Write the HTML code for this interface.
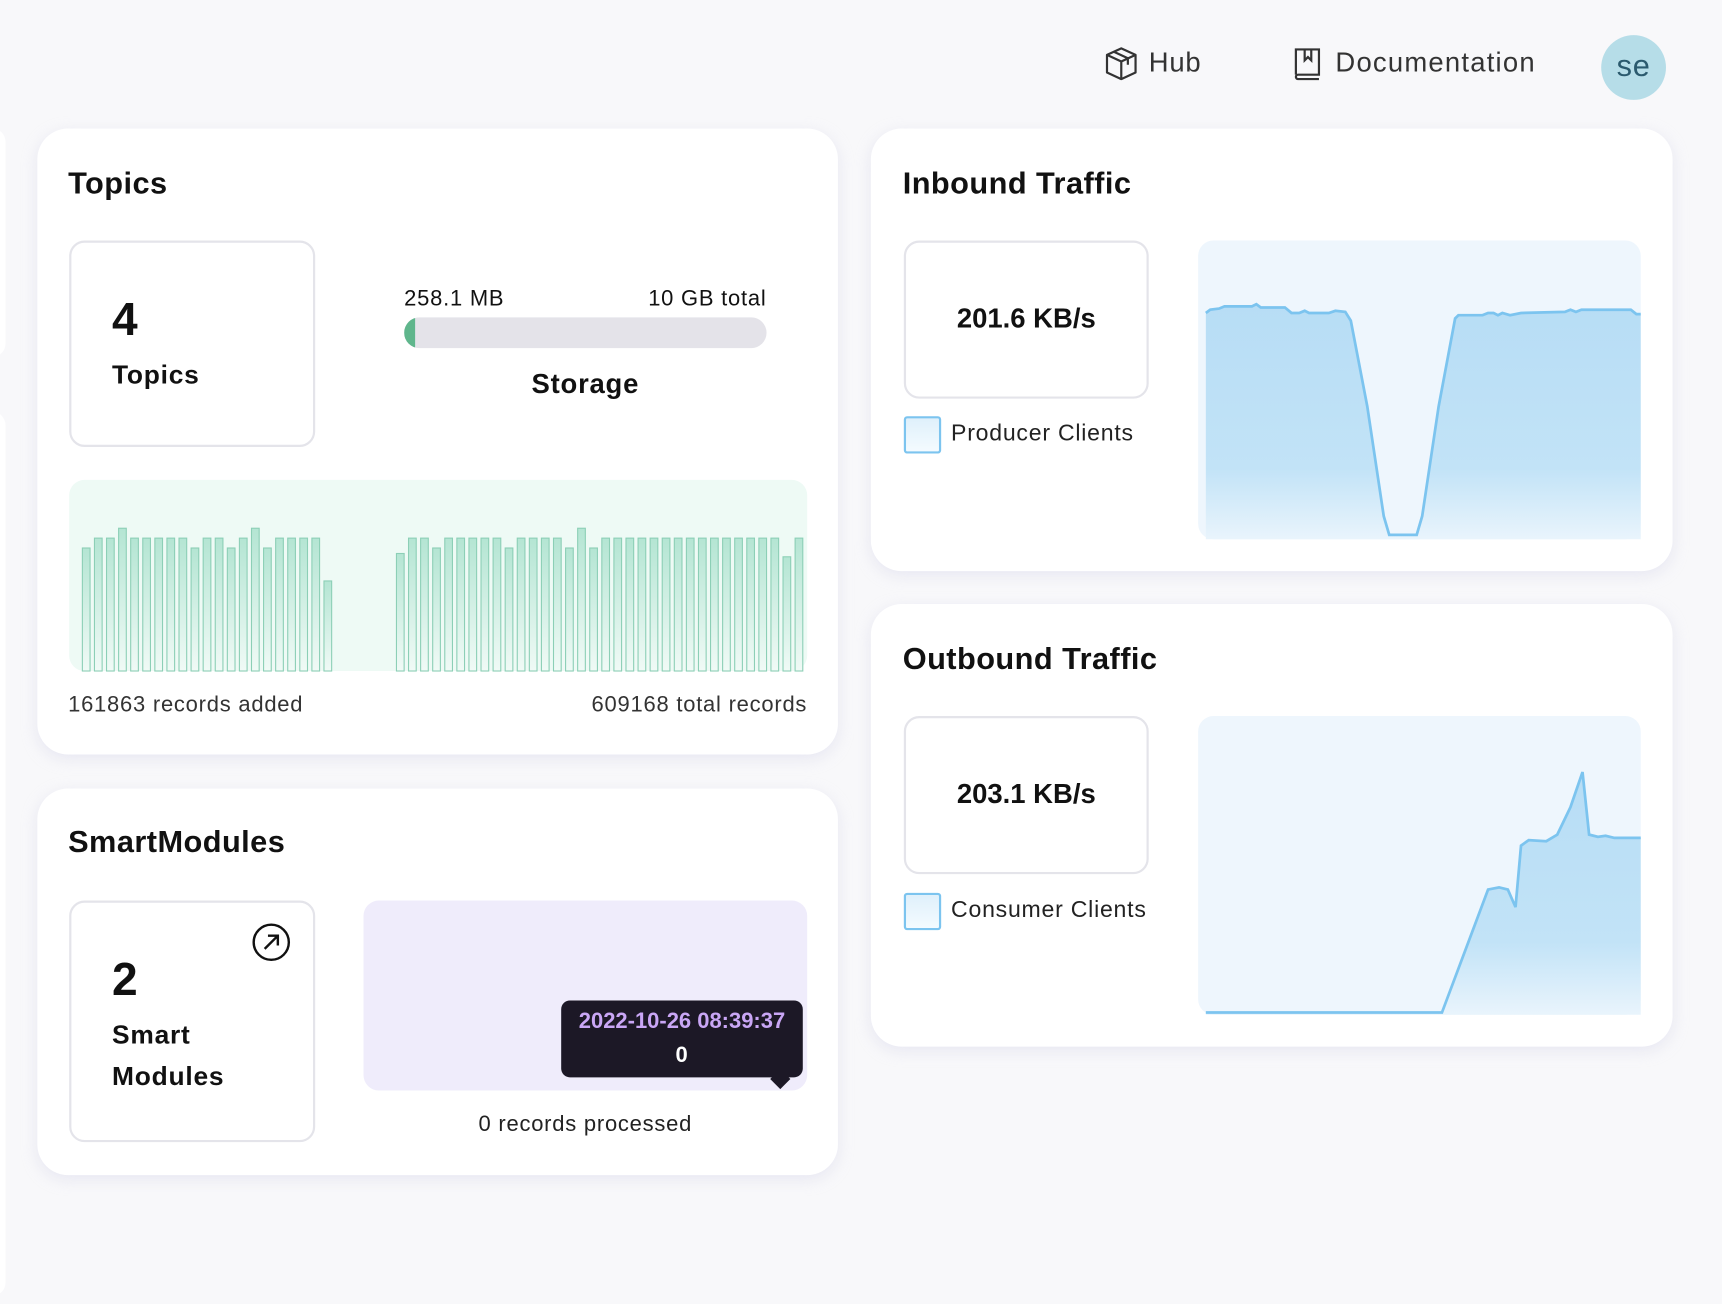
<!DOCTYPE html>
<html><head><meta charset="utf-8"><style>
html,body{margin:0;padding:0;width:1722px;height:1304px;overflow:hidden;background:#f8f8fa;font-family:"Liberation Sans",sans-serif;color:#111;}
#root{position:absolute;left:0;top:0;width:1568px;height:1187px;transform:scale(1.09821);transform-origin:0 0;}
.abs{position:absolute;}
.card{position:absolute;background:#fff;border-radius:28px;box-shadow:0 4px 14px rgba(200,200,225,0.35);}
.title{position:absolute;font-size:28px;font-weight:bold;line-height:1;letter-spacing:0.4px;}
.box{position:absolute;border:2px solid #e4e4ea;border-radius:14px;box-sizing:border-box;background:#fff;}
.t{position:absolute;white-space:nowrap;line-height:1;letter-spacing:0.7px;}
</style></head><body><div id="root">
<div class="abs" style="left:-20px;top:117px;width:25px;height:208px;background:#fff;border-radius:12px;"></div>
<div class="abs" style="left:-20px;top:375px;width:25px;height:805px;background:#fff;border-radius:12px;"></div>

<!-- header -->
<svg class="abs" style="left:1004px;top:41px" width="34" height="34" viewBox="0 0 34 34" fill="none" stroke="#333" stroke-width="2" stroke-linejoin="round"><path d="M17 3 L30 9 L30 25 L17 31 L4 25 L4 9 Z"/><path d="M4 9 L17 15 L30 9 M17 15 L17 31 M10 6 L23 12 L23 18"/></svg>
<div class="t" style="left:1046px;top:45px;font-size:25px;color:#333;">Hub</div>
<svg class="abs" style="left:1177px;top:42px" width="28" height="32" viewBox="0 0 28 32" fill="none" stroke="#333" stroke-width="2"><path d="M3 26 V3 H24 V26 H5 a2 2 0 0 0 0 4 H24"/><path d="M11 3 V13 L14 10 L17 13 V3"/></svg>
<div class="t" style="left:1216px;top:45px;font-size:25px;color:#333;letter-spacing:1.1px;">Documentation</div>
<div class="abs" style="left:1458px;top:32px;width:59px;height:59px;border-radius:50%;background:#b6dde8;"></div>
<div class="t" style="left:1458px;top:46px;width:59px;text-align:center;font-size:28px;color:#2b5a6e;">se</div>

<!-- Topics card -->
<div class="card" style="left:34px;top:117px;width:729px;height:570px;"></div>
<div class="title" style="left:62px;top:153px;">Topics</div>
<div class="box" style="left:63px;top:219px;width:224px;height:188px;"></div>
<div class="t" style="left:102px;top:270px;font-size:42px;font-weight:bold;">4</div>
<div class="t" style="left:102px;top:330px;font-size:24px;font-weight:bold;">Topics</div>
<div class="t" style="left:368px;top:262px;font-size:20px;">258.1 MB</div>
<div class="t" style="left:538px;top:262px;width:160px;text-align:right;font-size:20px;">10 GB total</div>
<div class="abs" style="left:368px;top:289px;width:330px;height:28px;border-radius:14px;background:#e4e3e9;overflow:hidden;"><div style="width:10px;height:28px;background:#5fb68c;"></div></div>
<div class="t" style="left:368px;top:338px;width:330px;text-align:center;font-size:25px;font-weight:bold;">Storage</div>
<div class="abs" style="left:63px;top:437px;width:672px;height:174px;background:#eefaf5;border-radius:14px;"></div>
<svg class="abs" style="left:0;top:0" width="1568" height="700">
<defs><linearGradient id="bg" x1="0" y1="0" x2="0" y2="1"><stop offset="0" stop-color="#b4e5d3"/><stop offset="1" stop-color="#f0faf6"/></linearGradient></defs>
<g fill="url(#bg)" stroke="#8ccfb6" stroke-width="1">
<rect x="75" y="499" width="7" height="112"/><rect x="86" y="490" width="7" height="121"/><rect x="97" y="490" width="7" height="121"/><rect x="108" y="481" width="7" height="130"/><rect x="119" y="490" width="7" height="121"/><rect x="130" y="490" width="7" height="121"/><rect x="141" y="490" width="7" height="121"/><rect x="152" y="490" width="7" height="121"/><rect x="163" y="490" width="7" height="121"/><rect x="174" y="499" width="7" height="112"/><rect x="185" y="490" width="7" height="121"/><rect x="196" y="490" width="7" height="121"/><rect x="207" y="499" width="7" height="112"/><rect x="218" y="490" width="7" height="121"/><rect x="229" y="481" width="7" height="130"/><rect x="240" y="499" width="7" height="112"/><rect x="251" y="490" width="7" height="121"/><rect x="262" y="490" width="7" height="121"/><rect x="273" y="490" width="7" height="121"/><rect x="284" y="490" width="7" height="121"/><rect x="295" y="529" width="7" height="82"/>
<rect x="361" y="504" width="7" height="107"/><rect x="372" y="490" width="7" height="121"/><rect x="383" y="490" width="7" height="121"/><rect x="394" y="499" width="7" height="112"/><rect x="405" y="490" width="7" height="121"/><rect x="416" y="490" width="7" height="121"/><rect x="427" y="490" width="7" height="121"/><rect x="438" y="490" width="7" height="121"/><rect x="449" y="490" width="7" height="121"/><rect x="460" y="499" width="7" height="112"/><rect x="471" y="490" width="7" height="121"/><rect x="482" y="490" width="7" height="121"/><rect x="493" y="490" width="7" height="121"/><rect x="504" y="490" width="7" height="121"/><rect x="515" y="499" width="7" height="112"/><rect x="526" y="481" width="7" height="130"/><rect x="537" y="499" width="7" height="112"/><rect x="548" y="490" width="7" height="121"/><rect x="559" y="490" width="7" height="121"/><rect x="570" y="490" width="7" height="121"/><rect x="581" y="490" width="7" height="121"/><rect x="592" y="490" width="7" height="121"/><rect x="603" y="490" width="7" height="121"/><rect x="614" y="490" width="7" height="121"/><rect x="625" y="490" width="7" height="121"/><rect x="636" y="490" width="7" height="121"/><rect x="647" y="490" width="7" height="121"/><rect x="658" y="490" width="7" height="121"/><rect x="669" y="490" width="7" height="121"/><rect x="680" y="490" width="7" height="121"/><rect x="691" y="490" width="7" height="121"/><rect x="702" y="490" width="7" height="121"/><rect x="713" y="507" width="7" height="104"/><rect x="724" y="490" width="7" height="121"/>
</g></svg>
<div class="t" style="left:62px;top:632px;font-size:20px;color:#333;">161863 records added</div>
<div class="t" style="left:435px;top:632px;width:300px;text-align:right;font-size:20px;color:#333;">609168 total records</div>

<!-- SmartModules card -->
<div class="card" style="left:34px;top:718px;width:729px;height:352px;"></div>
<div class="title" style="left:62px;top:753px;">SmartModules</div>
<div class="box" style="left:63px;top:820px;width:224px;height:220px;"></div>
<svg class="abs" style="left:229px;top:840px" width="36" height="36" viewBox="0 0 36 36" fill="none" stroke="#111" stroke-width="2.2"><circle cx="18" cy="18" r="16"/><path d="M12 24 L24 12 M15 12 H24 V21"/></svg>
<div class="t" style="left:102px;top:871px;font-size:42px;font-weight:bold;">2</div>
<div class="t" style="left:102px;top:931px;font-size:24px;font-weight:bold;">Smart</div>
<div class="t" style="left:102px;top:969px;font-size:24px;font-weight:bold;">Modules</div>
<div class="abs" style="left:331px;top:820px;width:404px;height:173px;background:#efecfb;border-radius:14px;"></div>
<div class="abs" style="left:511px;top:911px;width:220px;height:70px;background:#1c1826;border-radius:8px;"></div>
<div class="abs" style="left:704px;top:976px;width:13px;height:13px;background:#1c1826;transform:rotate(45deg);"></div>
<div class="t" style="left:511px;top:920px;width:220px;text-align:center;font-size:20px;font-weight:bold;color:#c9a6f5;letter-spacing:0;">2022-10-26 08:39:37</div>
<div class="t" style="left:511px;top:951px;width:220px;text-align:center;font-size:20px;font-weight:bold;color:#fff;">0</div>
<div class="t" style="left:331px;top:1014px;width:404px;text-align:center;font-size:20px;color:#222;">0 records processed</div>

<!-- Inbound card -->
<div class="card" style="left:793px;top:117px;width:730px;height:403px;"></div>
<div class="title" style="left:822px;top:153px;">Inbound Traffic</div>
<div class="box" style="left:823px;top:219px;width:223px;height:144px;"></div>
<div class="t" style="left:823px;top:278px;width:223px;text-align:center;font-size:25px;font-weight:bold;letter-spacing:0;">201.6 KB/s</div>
<div class="abs" style="left:823px;top:379px;width:34px;height:34px;box-sizing:border-box;border:2px solid #7cc4ef;border-radius:3px;background:linear-gradient(#dff0fb,#f4fbff);"></div>
<div class="t" style="left:866px;top:384px;font-size:21px;color:#222;">Producer Clients</div>
<div class="abs" style="left:1091px;top:219px;width:403px;height:272px;background:#eef6fd;border-radius:14px;"></div>

<!-- Outbound card -->
<div class="card" style="left:793px;top:550px;width:730px;height:403px;"></div>
<div class="title" style="left:822px;top:586px;">Outbound Traffic</div>
<div class="box" style="left:823px;top:652px;width:223px;height:144px;"></div>
<div class="t" style="left:823px;top:711px;width:223px;text-align:center;font-size:25px;font-weight:bold;letter-spacing:0;">203.1 KB/s</div>
<div class="abs" style="left:823px;top:813px;width:34px;height:34px;box-sizing:border-box;border:2px solid #7cc4ef;border-radius:3px;background:linear-gradient(#dff0fb,#f4fbff);"></div>
<div class="t" style="left:866px;top:818px;font-size:21px;color:#222;">Consumer Clients</div>
<div class="abs" style="left:1091px;top:652px;width:403px;height:272px;background:#eef6fd;border-radius:14px;"></div>

<svg class="abs" style="left:0;top:0" width="1568" height="1000">
<defs>
<linearGradient id="g1" x1="0" y1="0" x2="0" y2="1"><stop offset="0" stop-color="#b7ddf5"/><stop offset="0.7" stop-color="#c2e3f7"/><stop offset="1" stop-color="#e9f4fc"/></linearGradient>
</defs>
<path d="M1098,285 L1102,282 L1110,281 L1115,279 L1140,279 L1144,277 L1148,280 L1170,280 L1176,285 L1183,285 L1188,283 L1192,285 L1210,285 L1216,283 L1225,284 L1230,292 L1245,370 L1260,470 L1265,487 L1290,487 L1295,470 L1310,370 L1325,290 L1328,287 L1350,287 L1355,285 L1360,285 L1364,287 L1368,285 L1375,287 L1385,285 L1425,284 L1430,282 L1435,284 L1440,282 L1485,282 L1490,286 L1494,286 L1494,491 L1098,491 Z" fill="url(#g1)"/>
<path d="M1098,285 L1102,282 L1110,281 L1115,279 L1140,279 L1144,277 L1148,280 L1170,280 L1176,285 L1183,285 L1188,283 L1192,285 L1210,285 L1216,283 L1225,284 L1230,292 L1245,370 L1260,470 L1265,487 L1290,487 L1295,470 L1310,370 L1325,290 L1328,287 L1350,287 L1355,285 L1360,285 L1364,287 L1368,285 L1375,287 L1385,285 L1425,284 L1430,282 L1435,284 L1440,282 L1485,282 L1490,286 L1494,286" fill="none" stroke="#7cc4ef" stroke-width="2.5"/>
<path d="M1098,922 L1313,922 L1340,850 L1355,810 L1365,808 L1373,810 L1380,826 L1385,770 L1392,765 L1408,766 L1418,760 L1430,735 L1441,703 L1447,760 L1455,762 L1462,761 L1470,763 L1494,763 L1494,924 L1098,924 Z" fill="url(#g1)"/>
<path d="M1098,922 L1313,922 L1340,850 L1355,810 L1365,808 L1373,810 L1380,826 L1385,770 L1392,765 L1408,766 L1418,760 L1430,735 L1441,703 L1447,760 L1455,762 L1462,761 L1470,763 L1494,763" fill="none" stroke="#7cc4ef" stroke-width="2.5"/>
</svg>
</div></body></html>
